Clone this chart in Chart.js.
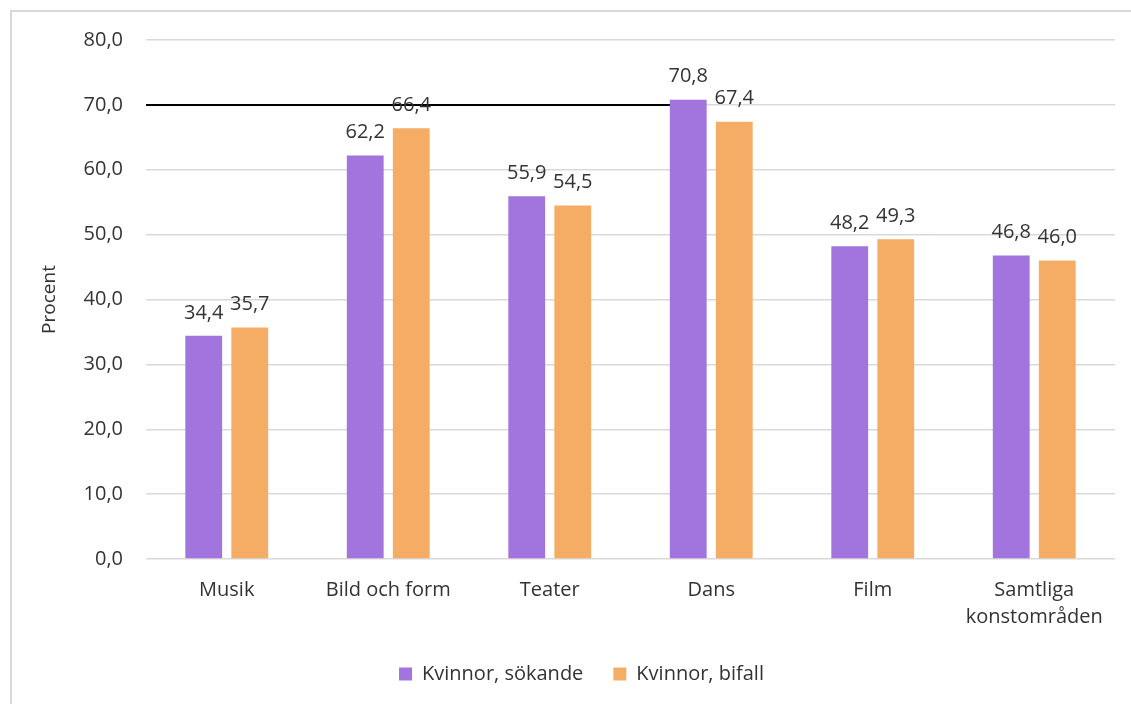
<!DOCTYPE html>
<html>
<head>
<meta charset="utf-8">
<script src="https://cdn.jsdelivr.net/npm/chart.js@4/dist/chart.umd.min.js"></script>
<style>
  html, body { margin: 0; padding: 0; background: #fff; }
  #wrap { position: relative; width: 1131px; height: 704px; overflow: hidden; }
  #frame { position: absolute; left: 10px; top: 10px; width: 1200px; height: 800px;
           border: 2px solid #d9d9d9; pointer-events: none; box-sizing: border-box; }
</style>
</head>
<body>
<div id="wrap">
  <canvas id="chart" width="1131" height="704"></canvas>
  <div id="frame"></div>
</div>
<script>
// data
const categories = ['Musik', 'Bild och form', 'Teater', 'Dans', 'Film', ['Samtliga', 'konstområden']];
const sokande = [34.4, 62.2, 55.9, 70.8, 48.2, 46.8];
const bifall = [35.7, 66.4, 54.5, 67.4, 49.3, 46.0];
const seriesNames = ['Kvinnor, sökande', 'Kvinnor, bifall'];
const refLineValue = 70;
const refLineEndIndex = 3; // line stops behind the Dans bar

const fontFamily = '"Open Sans", sans-serif';
const textColor = '#333333';

const fmt = v => v.toFixed(1).replace('.', ',');

// black line at 70 drawn under the bars
const refLinePlugin = {
  id: 'refLine',
  beforeDatasetsDraw(chart) {
    const { ctx, chartArea } = chart;
    const y = chart.scales.y.getPixelForValue(refLineValue);
    const bar = chart.getDatasetMeta(0).data[refLineEndIndex];
    ctx.save();
    ctx.strokeStyle = '#000';
    ctx.lineWidth = 2;
    ctx.beginPath();
    ctx.moveTo(chartArea.left, y);
    ctx.lineTo(bar.x, y);
    ctx.stroke();
    ctx.restore();
  }
};

// value labels above bars
const valueLabels = {
  id: 'valueLabels',
  afterDatasetsDraw(chart) {
    const ctx = chart.ctx;
    ctx.save();
    ctx.font = '20px ' + fontFamily;
    ctx.fillStyle = textColor;
    ctx.textAlign = 'center';
    ctx.textBaseline = 'bottom';
    chart.data.datasets.forEach((ds, i) => {
      chart.getDatasetMeta(i).data.forEach((bar, j) => {
        ctx.fillText(fmt(ds.data[j]), bar.x, bar.y - 13);
      });
    });
    ctx.restore();
  }
};

new Chart(document.getElementById('chart'), {
  type: 'bar',
  data: {
    labels: categories,
    datasets: [
      { label: seriesNames[0], data: sokande, backgroundColor: '#a274de' },
      { label: seriesNames[1], data: bifall, backgroundColor: '#f5ad65' }
    ]
  },
  options: {
    responsive: false,
    animation: false,
    categoryPercentage: 0.57,
    barPercentage: 0.8,
    layout: { padding: { top: 40, right: 16, bottom: 10, left: 48 } },
    scales: {
      x: {
        // trim the reserved box a bit so the legend keeps its place
        afterFit(scale) { scale.height -= 15; },
        grid: { display: false, drawTicks: false },
        border: { display: false },
        ticks: {
          color: textColor,
          font: { family: fontFamily, size: 20, lineHeight: 1.35 },
          padding: 18,
          maxRotation: 0
        }
      },
      y: {
        min: 0,
        max: 80,
        afterFit(scale) { scale.width = 98; },
        grid: { color: '#d9d9d9', lineWidth: 1.5, drawTicks: false },
        border: { display: false },
        ticks: {
          stepSize: 10,
          color: textColor,
          font: { family: fontFamily, size: 20 },
          padding: 23,
          callback: v => fmt(v)
        },
        title: {
          display: true,
          text: 'Procent',
          color: textColor,
          font: { family: fontFamily, size: 19 },
          padding: { top: -10 }
        }
      }
    },
    plugins: {
      legend: {
        position: 'bottom',
        labels: {
          color: textColor,
          font: { family: fontFamily, size: 20 },
          boxWidth: 13,
          boxHeight: 13,
          padding: 30
        }
      },
      tooltip: { enabled: false }
    }
  },
  plugins: [refLinePlugin, valueLabels]
});
</script>
</body>
</html>
